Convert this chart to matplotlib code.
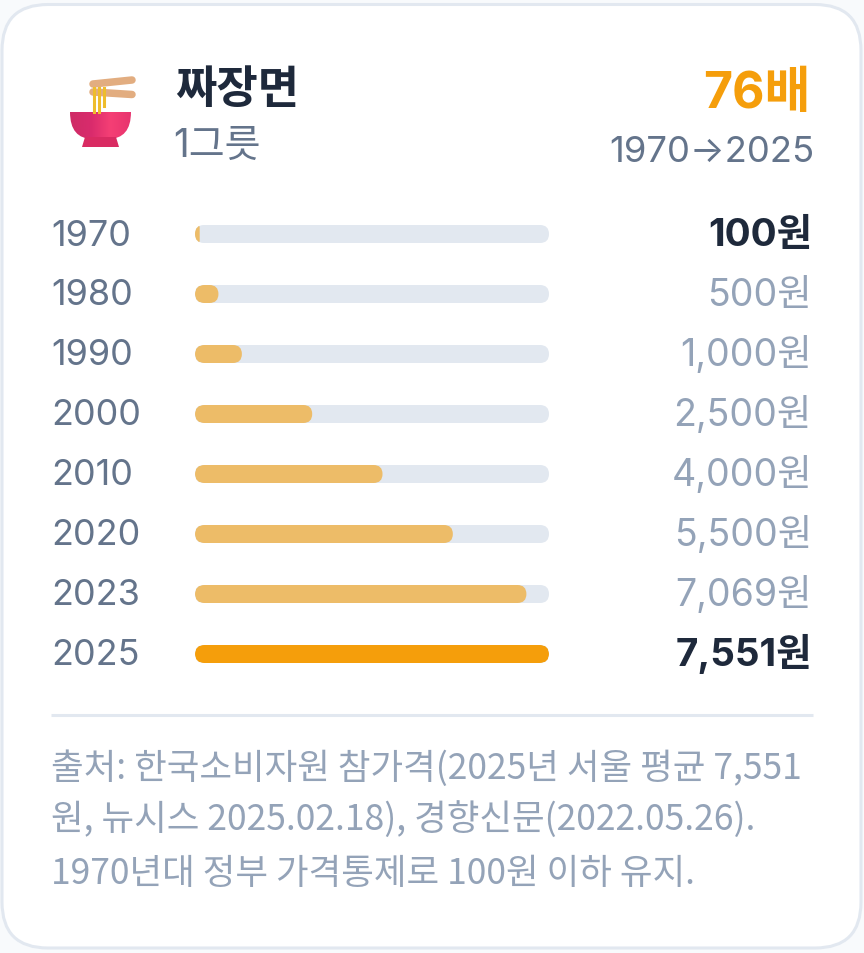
import numpy as np
import matplotlib
matplotlib.use('Agg')
import matplotlib.pyplot as plt
from matplotlib.patches import FancyBboxPatch, Polygon, PathPatch
from matplotlib.path import Path
from matplotlib.colors import LinearSegmentedColormap

plt.rcParams['font.family'] = ['Inter', 'Noto Sans CJK KR', 'DejaVu Sans']

years = ['1970', '1980', '1990', '2000', '2010', '2020', '2023', '2025']
prices = [100, 500, 1000, 2500, 4000, 5500, 7069, 7551]
price_labels = ['100원', '500원', '1,000원', '2,500원', '4,000원', '5,500원', '7,069원', '7,551원']
highlight = ['1970', '2025']

title = '짜장면'
subtitle = '1그릇'
ratio = '76배'
period = '1970→2025'
source_lines = ['출처: 한국소비자원 참가격(2025년 서울 평균 7,551',
                '원, 뉴시스 2025.02.18), 경향신문(2022.05.26).',
                '1970년대 정부 가격통제로 100원 이하 유지.']

W, H = 864, 954
fig = plt.figure(figsize=(W / 100, H / 100), dpi=100, facecolor='#f8fafc')

# pixel coordinates for everything except the bars
ax = fig.add_axes([0, 0, 1, 1])
ax.set_xlim(0, W)
ax.set_ylim(H, 0)
ax.axis('off')

def px(size):
    return size * 0.72

# Card
ax.add_patch(FancyBboxPatch((2, 5.5), 859, 943.5, boxstyle='round,pad=0,rounding_size=46',
                            fc='white', ec='#e2e8f0', lw=2.2))

# Bowl emoji
bowl_cmap = LinearSegmentedColormap.from_list('bowl', ['#cf2b66', '#d82b6c', '#f53f75', '#e8346e'])
grad = np.linspace(0, 1, 64).reshape(1, -1)
bowl_path = Path([(70, 113), (131, 113), (131, 140), (108, 140), (93, 140), (70, 140), (70, 113), (70, 113)],
                 [Path.MOVETO, Path.LINETO, Path.CURVE3, Path.CURVE3, Path.LINETO, Path.CURVE3, Path.CURVE3, Path.CLOSEPOLY])
img = ax.imshow(grad, extent=(70, 131, 148, 113), cmap=bowl_cmap, aspect='auto', zorder=3)
bowl_patch = PathPatch(bowl_path, transform=ax.transData, fc='none', ec='none')
ax.add_patch(bowl_patch)
img.set_clip_path(bowl_patch)
ax.add_patch(Polygon([(85, 138), (116, 138), (119, 148), (82, 148)], fc='#d92b62', ec='none', zorder=3))
ax.set_xlim(0, W)
ax.set_ylim(H, 0)
ax.plot([93, 132], [85, 81], color='#e2ad80', lw=5.4, solid_capstyle='round', zorder=3)
ax.plot([93, 132], [93, 95.5], color='#e2ad80', lw=5.4, solid_capstyle='round', zorder=3)
for nx, ny in [(94, 113), (99, 113), (104, 107)]:
    ax.plot([nx, nx], [89, ny], color='#eebd2c', lw=2.2, zorder=4)

# Header
ax.text(175, 91, title, fontsize=px(45), fontweight='bold', color='#1e293b', va='center', ha='left')
ax.text(173, 146, subtitle, fontsize=px(39), color='#64748b', va='center', ha='left')
ax.text(811, 108, ratio, fontsize=px(50), fontweight='bold', color='#f59e0b', va='baseline', ha='right')
ax.text(814, 162, period, fontsize=px(36.5), color='#64748b', va='baseline', ha='right')

# Bars: x in won, y in pixels
bar_left, bar_right = 195, 549
row_top, row_step, bar_h = 226, 60, 18
ax_bar = fig.add_axes([bar_left / W, 0, (bar_right - bar_left) / W, 1])
ax_bar.set_xlim(0, max(prices))
ax_bar.set_ylim(H, 0)
ax_bar.axis('off')
ax_bar.patch.set_alpha(0)
x_per_px = max(prices) / (bar_right - bar_left)
radius = bar_h / 2 * x_per_px

for i, (year, price, label) in enumerate(zip(years, prices, price_labels)):
    y = row_top + i * row_step
    mid = y + bar_h / 2
    track = FancyBboxPatch((0, y), max(prices), bar_h,
                           boxstyle=f'round,pad=0,rounding_size={radius}',
                           mutation_aspect=1 / x_per_px, fc='#e2e8f0', ec='none')
    ax_bar.add_patch(track)
    fill = FancyBboxPatch((0, y), price, bar_h,
                          boxstyle=f'round,pad=0,rounding_size={min(radius, price / 2)}',
                          mutation_aspect=1 / x_per_px,
                          fc='#f59e0b' if year == '2025' else '#edbc68', ec='none')
    ax_bar.add_patch(fill)
    fill.set_clip_path(track)

    ax.text(51, mid + 10.5, year, fontsize=px(36), color='#64748b', va='baseline', ha='left')
    if year in highlight:
        ax.text(812, mid + 11, label, fontsize=px(38.5), fontweight='bold', color='#1e293b', va='baseline', ha='right')
    else:
        ax.text(812, mid + 11, label, fontsize=px(37.5), color='#94a3b8', va='baseline', ha='right')

# Divider and source (CJK font: its narrower digits fit the line lengths)
ax.plot([51, 813], [716, 716], color='#e2e8f0', lw=2.2, solid_capstyle='butt')
for line, y in zip(source_lines, [769, 820, 874]):
    ax.text(51, y, line, fontsize=px(35.5), color='#94a3b8', va='center', ha='left',
            family=['Noto Sans CJK KR', 'DejaVu Sans'])

fig.savefig('out.png', dpi=100, facecolor=fig.get_facecolor())
